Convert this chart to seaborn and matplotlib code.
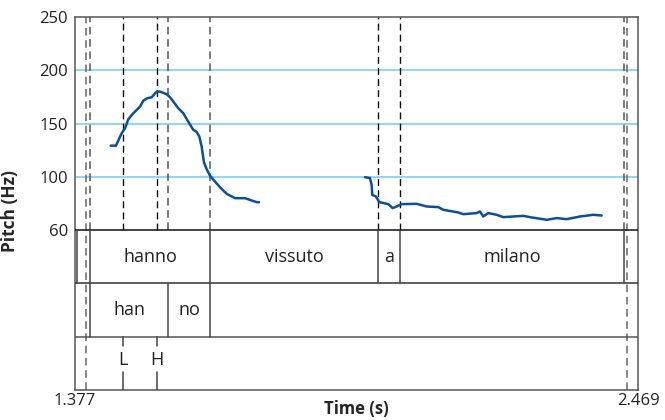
import matplotlib
matplotlib.use("Agg")
import matplotlib.pyplot as plt
import seaborn as sns
import pandas as pd

sns.set_style("white")
plt.rcParams['font.family'] = ['Open Sans', 'DejaVu Sans']

# ---- data ----
seg1_time = [1.4462, 1.4565, 1.4676, 1.4740, 1.4804, 1.4901, 1.5031, 1.5095, 1.5172,
             1.5258, 1.5355, 1.5419, 1.5549, 1.5613, 1.5773, 1.5870, 1.5967, 1.6064,
             1.6130, 1.6181, 1.6227, 1.6272, 1.6324, 1.6388, 1.6485, 1.6582, 1.6712,
             1.6873, 1.7067, 1.7197, 1.7294, 1.7339]
seg1_hz = [129.3, 129.3, 141.0, 145.6, 154.1, 159.7, 165.9, 171.5, 173.8,
           174.7, 180.0, 180.0, 177.5, 174.7, 164.4, 159.7, 151.8, 144.1,
           142.2, 137.8, 128.4, 113.4, 107.2, 101.2, 95.6, 90.3, 84.1,
           80.0, 80.0, 77.8, 76.3, 76.2]
seg2_time = [1.9395, 1.9491, 1.9524, 1.9536, 1.9608, 1.9672, 1.9846, 1.9932, 2.0009,
             2.0106, 2.0397, 2.0591, 2.0816, 2.0913, 2.1204, 2.1301, 2.1561, 2.1625,
             2.1689, 2.1786, 2.1949, 2.2077, 2.2465, 2.2595, 2.2919, 2.3113, 2.3306,
             2.3564, 2.3822, 2.3985]
seg2_hz = [99.7, 98.8, 92.5, 83.1, 81.5, 76.3, 74.4, 70.7, 72.2,
           74.4, 74.7, 72.2, 71.6, 69.1, 66.6, 65.0, 66.0, 67.5,
           62.8, 66.0, 64.4, 62.2, 63.4, 62.2, 59.7, 61.3, 60.3,
           62.8, 64.4, 63.7]

y_ticks = [50, 100, 150, 200, 250]
y_tick_labels = ["60", "100", "150", "200", "250"]
grid_levels = [100, 150, 200]
x_range = [1.377, 2.469]
x_tick_labels = ["1.377", "2.469"]

word_bounds = [1.3809, 1.4061, 1.6388, 1.9656, 2.0079, 2.4428]
word_labels = ["hanno", "vissuto", "a", "milano"]
syll_bounds = [1.4061, 1.5574, 1.6388]
syll_labels = ["han", "no"]
tone_times = [1.4707, 1.5366]
tone_labels = ["L", "H"]
full_dashed = [1.3983, 2.4486]
pitch_dashed_grey = [1.4061, 1.5574, 1.6388, 2.4428]
pitch_dashed_black = [1.4707, 1.5366, 1.9656, 2.0079]

# ---- figure ----
fig = plt.figure(figsize=(6.65, 4.2), dpi=100)
ax = fig.add_axes([75 / 665, 30 / 420, 563 / 665, 373 / 420])
ax.set_xlim(*x_range)
ax.set_ylim(-100, 250)

for g in grid_levels:
    ax.axhline(g, color="#8fd6f2", lw=1.4, zorder=1)

for t in full_dashed:
    ax.axvline(t, color="#666666", lw=1.1, ls=(0, (5, 3)), zorder=2)
for t in pitch_dashed_grey:
    ax.plot([t, t], [50, 250], color="#555555", lw=1.1, ls=(0, (5, 3)), zorder=2)
for t in pitch_dashed_black:
    ax.plot([t, t], [50, 250], color="#111111", lw=1.0, ls=(0, (5, 3)), zorder=2)

df = pd.DataFrame({
    "time": seg1_time + seg2_time,
    "hz": seg1_hz + seg2_hz,
    "seg": ["a"] * len(seg1_time) + ["b"] * len(seg2_time),
})
sns.lineplot(data=df, x="time", y="hz", units="seg", estimator=None, sort=False,
             color="#0b4f9a", lw=1.8, ax=ax, zorder=4)

# tier separators
ax.axhline(50, color="#111111", lw=1.1, zorder=3)
ax.axhline(0, color="#333333", lw=1.1, zorder=3)
ax.axhline(-50, color="#555555", lw=1.1, zorder=3)

# word tier
for b in word_bounds:
    ax.plot([b, b], [0, 50], color="#444444", lw=1.1, zorder=3)
word_intervals = list(zip(word_bounds[1:-1], word_bounds[2:]))
for (a, b), lab in zip(word_intervals, word_labels):
    ax.text((a + b) / 2, 25, lab, ha="center", va="center", fontsize=13, color="#222222")

# syllable tier
for b in syll_bounds:
    ax.plot([b, b], [-50, 0], color="#444444", lw=1.1, zorder=3)
for a, b, lab in zip(syll_bounds[:-1], syll_bounds[1:], syll_labels):
    ax.text((a + b) / 2, -25, lab, ha="center", va="center", fontsize=13, color="#222222")

# tone tier
for t, lab in zip(tone_times, tone_labels):
    ax.plot([t, t], [-50, -59], color="#444444", lw=1.1, zorder=3)
    ax.plot([t, t], [-83, -100], color="#444444", lw=1.1, zorder=3)
    ax.text(t, -72, lab, ha="center", va="center", fontsize=13, color="#222222")

ax.set_yticks(y_ticks)
ax.set_yticklabels(y_tick_labels)
ax.set_xticks(x_range)
ax.set_xticklabels(x_tick_labels)
ax.tick_params(axis="both", length=0, labelsize=12, colors="#222222", pad=2)
ax.tick_params(axis="y", pad=5)
ax.set_ylabel("Pitch (Hz)", fontsize=12.5, fontweight="bold")
ax.yaxis.set_label_coords(-0.1, 0.48)
ax.set_xlabel("Time (s)", fontsize=12, fontweight="bold")
ax.xaxis.set_label_coords(0.5, -0.028)

for s in ax.spines.values():
    s.set_color("#555555")
    s.set_linewidth(1.1)

fig.savefig("out.png", dpi=100)
